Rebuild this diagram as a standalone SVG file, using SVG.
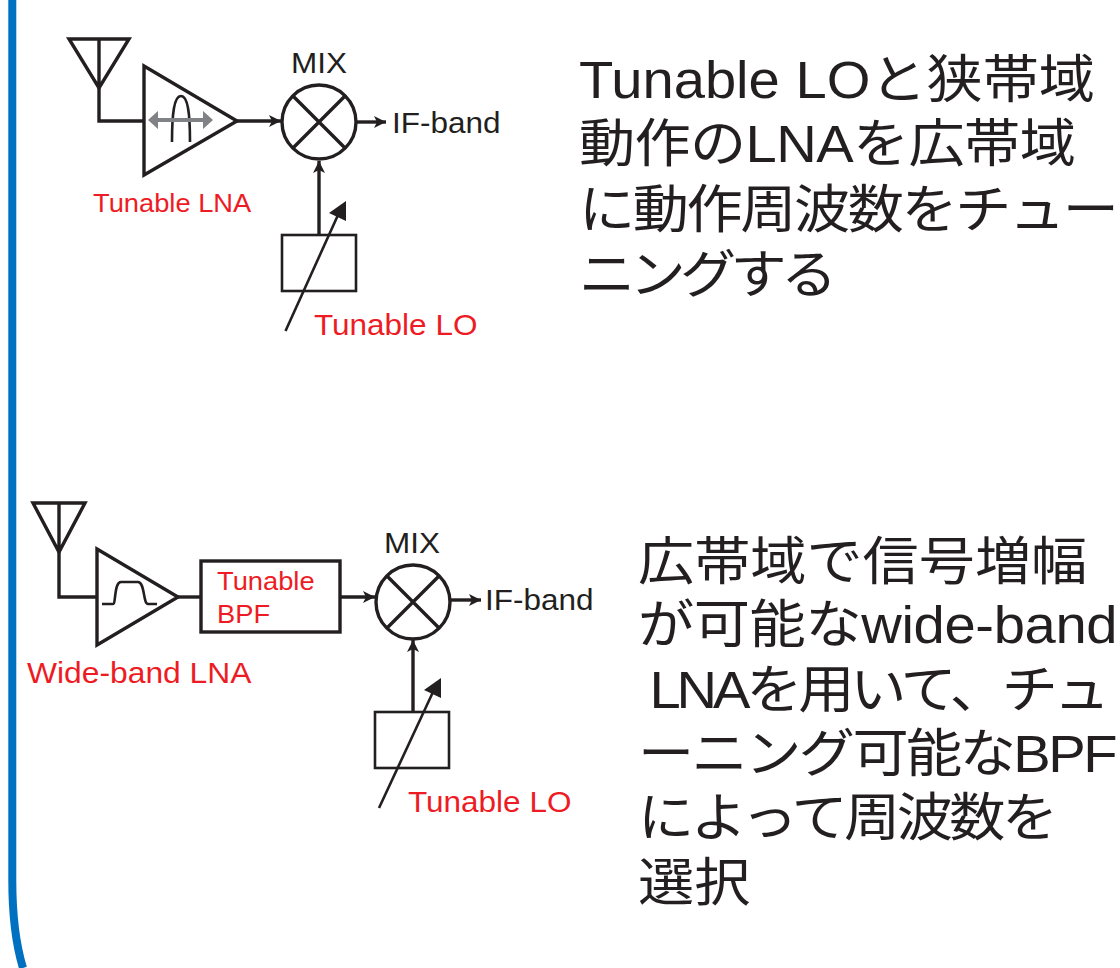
<svg xmlns="http://www.w3.org/2000/svg" width="1120" height="968" viewBox="0 0 1120 968">
<style>
.l{fill:none;stroke:#231f20;stroke-width:3.4}
.t{fill:none;stroke:#231f20;stroke-width:2.6}
text{font-family:"Liberation Sans","Noto Sans CJK JP",sans-serif;white-space:pre}
.k{fill:#231f20;font-size:30px}
.r{fill:#ed1c24;font-size:30px}
.s{fill:#ed1c24;font-size:26px}
.b{fill:#231f20;font-size:52px}
</style>
<defs>
<marker id="a" markerWidth="14" markerHeight="14" refX="12" refY="6.500" orient="auto" markerUnits="userSpaceOnUse"><path d="M0 0.500L12 6.500L0 12.500L3 6.500Z" fill="#231f20"/></marker>
</defs>
<path id="border" d="M12.300 0V880C12.300 915 16 945 23 968" fill="none" stroke="#0070c0" stroke-width="8"/>
<g id="antenna1"><path class="l" d="M69 39H129L99 88ZM99 39V88"/></g>
<g id="lna1"><path class="l" d="M144 66V175L237 121Z"/>
<path class="t" d="M172 142C172 114 174 96 181 96C188 96 190 114 190 142"/>
<path d="M148 120L158 111V118H203V111L213 120L203 129V122H158V129Z" fill="#808285"/>
<text class="s" transform="translate(93 212) scale(1.05 1)">Tunable LNA</text></g>
<g id="mix1"><circle class="l" cx="319" cy="122" r="37"/><path class="l" d="M293 96L345 148M345 96L293 148"/><text class="k" transform="translate(291 73) scale(1.05 1)">MIX</text></g>
<g id="lo1"><rect class="t" x="282" y="235" width="74" height="56"/><text class="r" transform="translate(314 335) scale(1.05 1)">Tunable LO</text></g>
<text id="out1" class="k" transform="translate(392 133) scale(1.05 1)">IF-band</text>
<g id="antenna2"><path class="l" d="M33 503H85L59 552ZM59 503V552"/></g>
<g id="lna2"><path class="l" d="M97 549V645L178 597Z"/>
<path class="t" d="M102 604H113C116 604 114 582 121 582H138C145 582 143 604 148 604H157"/>
<text class="r" transform="translate(27 683) scale(1.06 1)">Wide-band LNA</text></g>
<g id="bpf"><rect class="l" x="201" y="561" width="139" height="71"/><text class="s" transform="translate(217 590) scale(1.05 1)">Tunable</text><text class="s" transform="translate(217 623) scale(1.05 1)">BPF</text></g>
<g id="mix2"><circle class="l" cx="413" cy="602" r="37"/><path class="l" d="M387 576L439 628M439 576L387 628"/><text class="k" transform="translate(384 553) scale(1.05 1)">MIX</text></g>
<g id="lo2"><rect class="t" x="375" y="712" width="74" height="56"/><text class="r" transform="translate(408 812) scale(1.05 1)">Tunable LO</text></g>
<text id="out2" class="k" transform="translate(485 610) scale(1.05 1)">IF-band</text>
<g id="connectors">
<path class="l" d="M99 88V121H144"/>
<path class="l" d="M237 121H281" marker-end="url(#a)"/>
<path class="l" d="M357 122H386" marker-end="url(#a)"/>
<path class="l" d="M319 235V161" marker-end="url(#a)"/>
<path class="t" d="M285.500 331L338 215"/><path d="M346 201L346 221L329 213Z" fill="#231f20"/>
<path class="l" d="M59 552V597H97"/>
<path class="l" d="M178 597H201"/>
<path class="l" d="M340 597H375" marker-end="url(#a)"/>
<path class="l" d="M451 600H481" marker-end="url(#a)"/>
<path class="l" d="M413 712V640" marker-end="url(#a)"/>
<path class="t" d="M379 808L433 692"/><path d="M441 678L441 698L424 690Z" fill="#231f20"/>
</g>
<g id="desc1">
<text class="b" transform="translate(579 98) scale(1.08 1)">Tunable LOと狭帯域</text>
<text class="b" transform="translate(579 162) scale(1.08 1)" textLength="460">動作のLNAを広帯域</text>
<text class="b" transform="translate(579 228) scale(1.08 1)" textLength="500">に動作周波数をチュー</text>
<text class="b" transform="translate(579 293) scale(1.08 1)" textLength="239">ニングする</text>
</g>
<g id="desc2">
<text class="b" transform="translate(638 580) scale(1.08 1)">広帯域で信号増幅</text>
<text class="b" transform="translate(638 643) scale(1.08 1)" textLength="444">が可能なwide-band</text>
<text class="b" transform="translate(638 708) scale(1.08 1)" textLength="437"> LNAを用いて、チュ</text>
<text class="b" transform="translate(638 772) scale(1.08 1)" textLength="444">ーニング可能なBPF</text>
<text class="b" transform="translate(638 836) scale(1.08 1)" textLength="389">によって周波数を</text>
<text class="b" transform="translate(638 901) scale(1.08 1)">選択</text>
</g>
</svg>
